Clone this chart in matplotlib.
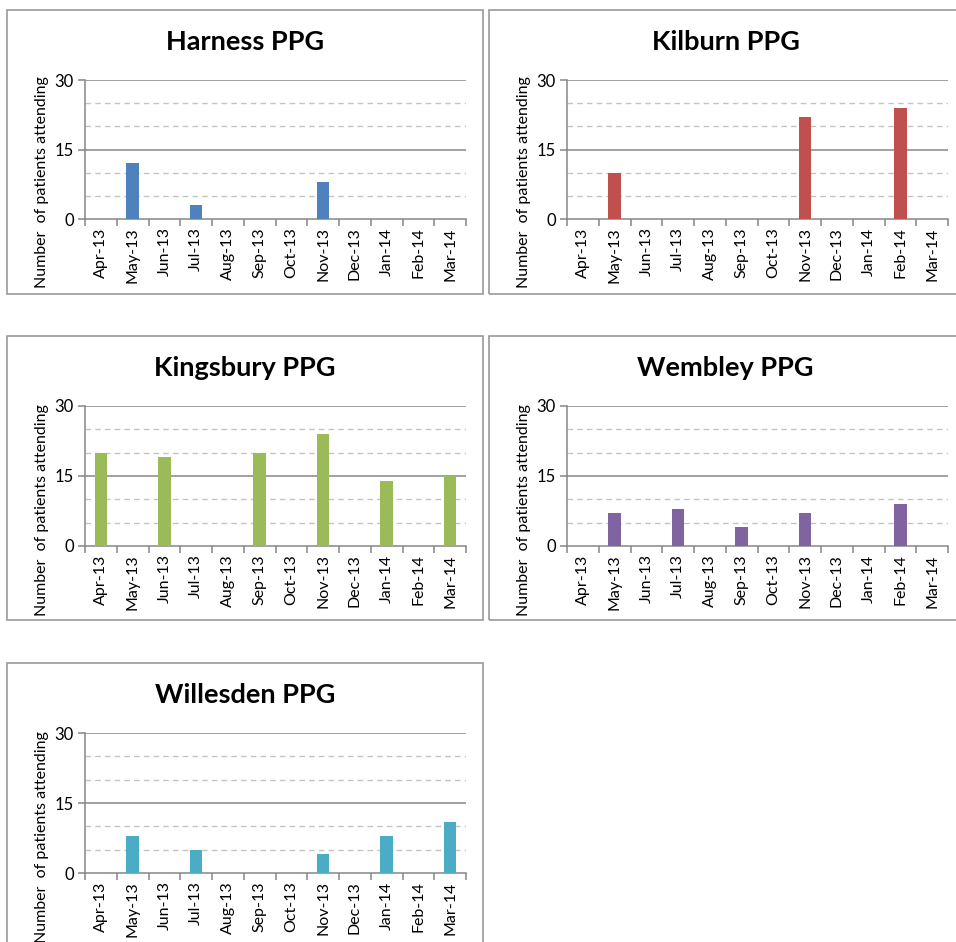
"""Monthly PPG attendance charts, one panel per practice group."""

import matplotlib
matplotlib.use("Agg")
import matplotlib.pyplot as plt
from matplotlib.patches import Rectangle
import numpy as np

plt.rcParams["font.family"] = ["Lato", "DejaVu Sans"]

MONTHS = ["Apr-13", "May-13", "Jun-13", "Jul-13", "Aug-13", "Sep-13",
          "Oct-13", "Nov-13", "Dec-13", "Jan-14", "Feb-14", "Mar-14"]

HARNESS = [0, 12, 0, 3, 0, 0, 0, 8, 0, 0, 0, 0]
KILBURN = [0, 10, 0, 0, 0, 0, 0, 22, 0, 0, 24, 0]
KINGSBURY = [20, 0, 19, 0, 0, 20, 0, 24, 0, 14, 0, 15]
WEMBLEY = [0, 7, 0, 8, 0, 4, 0, 7, 0, 0, 9, 0]
WILLESDEN = [0, 8, 0, 5, 0, 0, 0, 4, 0, 8, 0, 11]

TITLES = ["Harness PPG", "Kilburn PPG", "Kingsbury PPG", "Wembley PPG", "Willesden PPG"]
COLORS = ["#4F81BD", "#C0504D", "#9BBB59", "#8064A2", "#4BACC6"]

W, H = 956, 942


def px_rect(x0, y0, x1, y1):
    """Convert pixel box (top-left origin) to figure fraction [l, b, w, h]."""
    return [x0 / W, 1 - y1 / H, (x1 - x0) / W, (y1 - y0) / H]


def draw_panel(fig, frame, plot_box, title, values, color):
    fx0, fy0, fx1, fy1 = frame
    l, b, w, h = px_rect(fx0, fy0, fx1, fy1)
    fig.patches.append(Rectangle((l, b), w, h, transform=fig.transFigure,
                                 fill=False, edgecolor="#9a9a9a", linewidth=1.2))

    ax = fig.add_axes(px_rect(*plot_box))
    x = np.arange(len(MONTHS))
    ax.bar(x, values, width=0.4, color=color, zorder=3)

    ax.set_xlim(-0.5, len(MONTHS) - 0.5)
    ax.set_ylim(0, 30)
    ax.set_yticks([0, 15, 30])
    for y in [5, 10, 20, 25]:
        ax.axhline(y, color="#c4c4c4", linewidth=1, linestyle=(0, (4, 3)), zorder=1)
    for y in [15, 30]:
        ax.axhline(y, color="#868686", linewidth=1.1, zorder=1)

    ax.set_xticks(x)
    ax.set_xticklabels(MONTHS, rotation=90, fontsize=11.5)
    ax.tick_params(axis="x", length=0, pad=6)
    ax.set_xticks(np.arange(-0.5, len(MONTHS)), minor=True)
    ax.tick_params(axis="x", which="minor", length=5, color="#868686", width=1.1)
    ax.tick_params(axis="y", length=5, color="#868686", width=1.1, labelsize=12, pad=3)

    for side in ["top", "right"]:
        ax.spines[side].set_visible(False)
    for side in ["left", "bottom"]:
        ax.spines[side].set_color("#868686")
        ax.spines[side].set_linewidth(1.1)

    ax.set_ylabel("Number  of patients attending", fontsize=11.5)
    ax.yaxis.set_label_coords(-0.113, -0.5, transform=ax.transAxes)
    ax.yaxis.label.set_verticalalignment("center")
    ax.yaxis.label.set_horizontalalignment("left")

    cx = (fx0 + fx1) / 2
    fig.text(cx / W, 1 - (fy0 + 32) / H, title,
             ha="center", va="center", fontsize=19.5, fontweight="bold")


def main() -> None:
    fig = plt.figure(figsize=(W / 100, H / 100), dpi=100)

    frames = [(7, 10, 483, 294), (489, 10, 962, 294),
              (7, 336, 483, 620), (489, 336, 962, 620),
              (7, 663, 483, 960)]
    boxes = [(85, 80, 466, 219), (567, 80, 948, 219),
             (85, 406, 466, 546), (567, 406, 948, 546),
             (85, 733, 466, 873)]
    series = [HARNESS, KILBURN, KINGSBURY, WEMBLEY, WILLESDEN]

    for frame, box, title, values, color in zip(frames, boxes, TITLES, series, COLORS):
        draw_panel(fig, frame, box, title, values, color)

    fig.savefig("out.png", dpi=100)
    plt.close(fig)


if __name__ == "__main__":
    main()
